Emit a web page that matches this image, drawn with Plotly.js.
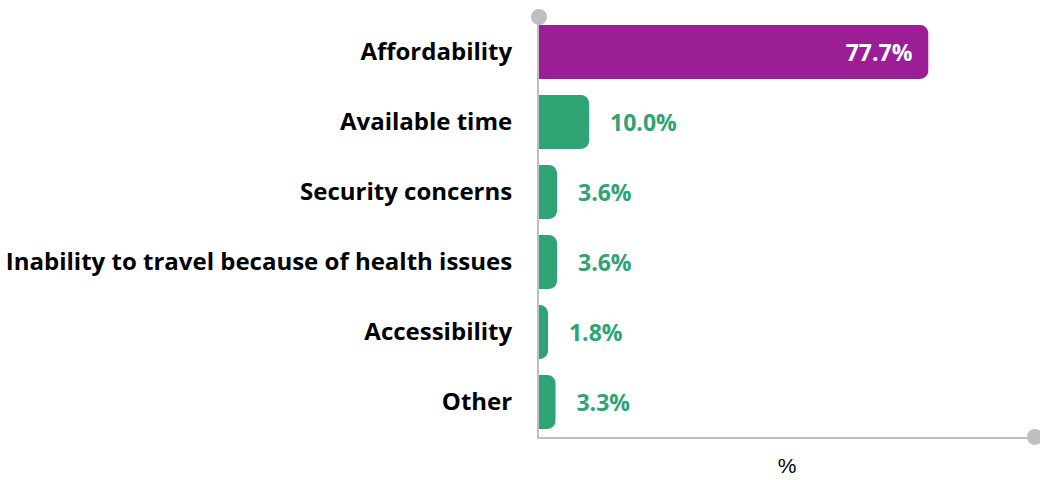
<!DOCTYPE html>
<html>
<head>
<meta charset="utf-8">
<script src="https://cdn.plot.ly/plotly-3.0.1.min.js"></script>
<style>html,body{margin:0;padding:0;background:#fff;}#chart{width:1040px;height:480px;}</style>
</head>
<body>
<div id="chart"></div>
<script>
var categories = ["Affordability", "Available time", "Security concerns", "Inability to travel because of health issues", "Accessibility", "Other"];
var values = [77.7, 10.0, 3.6, 3.6, 1.8, 3.3];
var highlight = "Affordability";

var purple = "#9c1e96";
var green = "#2ea373";
var fontFam = "'Open Sans', Lato, sans-serif";

var colors = categories.map(function(c){ return c === highlight ? purple : green; });
var positions = categories.map(function(c){ return c === highlight ? "inside" : "outside"; });
var templates = categories.map(function(c){
  return c === highlight ? "<b>%{x:.1f}%</b>\u00a0\u00a0" : "\u00a0\u00a0\u00a0<b>%{x:.1f}%</b>";
});
var textColors = categories.map(function(c){ return c === highlight ? "#ffffff" : green; });

var trace = {
  type: "bar",
  orientation: "h",
  y: categories,
  x: values,
  marker: {color: colors, cornerradius: 8},
  texttemplate: templates,
  textposition: positions,
  insidetextanchor: "end",
  textfont: {family: fontFam, size: 23, color: textColors},
  cliponaxis: false,
  hoverinfo: "skip"
};

var layout = {
  width: 1040,
  height: 480,
  margin: {l: 539, r: 5, t: 17, b: 43},
  paper_bgcolor: "#ffffff",
  plot_bgcolor: "#ffffff",
  bargap: 0.23,
  showlegend: false,
  font: {family: fontFam, color: "#000000"},
  xaxis: {
    range: [0, 99],
    showgrid: false,
    zeroline: false,
    showticklabels: false,
    ticks: "",
    showline: true,
    linecolor: "#bfbfbf",
    linewidth: 2,
    title: {text: "\u00a0\u00a0\u00a0\u00a0\u00a0%", font: {family: "'Liberation Sans', Arial, sans-serif", size: 21, color: "#000"}, standoff: 20}
  },
  yaxis: {
    autorange: "reversed",
    showgrid: false,
    zeroline: false,
    showline: true,
    linecolor: "#bfbfbf",
    linewidth: 2,
    ticks: "",
    ticklabelstandoff: 20,
    tickfont: {family: fontFam, size: 24, color: "#000", weight: "bold"}
  },
  shapes: [
    {type: "circle", xref: "paper", yref: "paper", xsizemode: "pixel", ysizemode: "pixel",
     xanchor: 0, yanchor: 1, x0: -8, x1: 8, y0: -8, y1: 8,
     fillcolor: "#bfbfbf", line: {width: 0}},
    {type: "circle", xref: "paper", yref: "paper", xsizemode: "pixel", ysizemode: "pixel",
     xanchor: 1, yanchor: 0, x0: -8, x1: 8, y0: -8, y1: 8,
     fillcolor: "#bfbfbf", line: {width: 0}}
  ]
};

Plotly.newPlot("chart", [trace], layout, {displayModeBar: false, staticPlot: true});
</script>
</body>
</html>
